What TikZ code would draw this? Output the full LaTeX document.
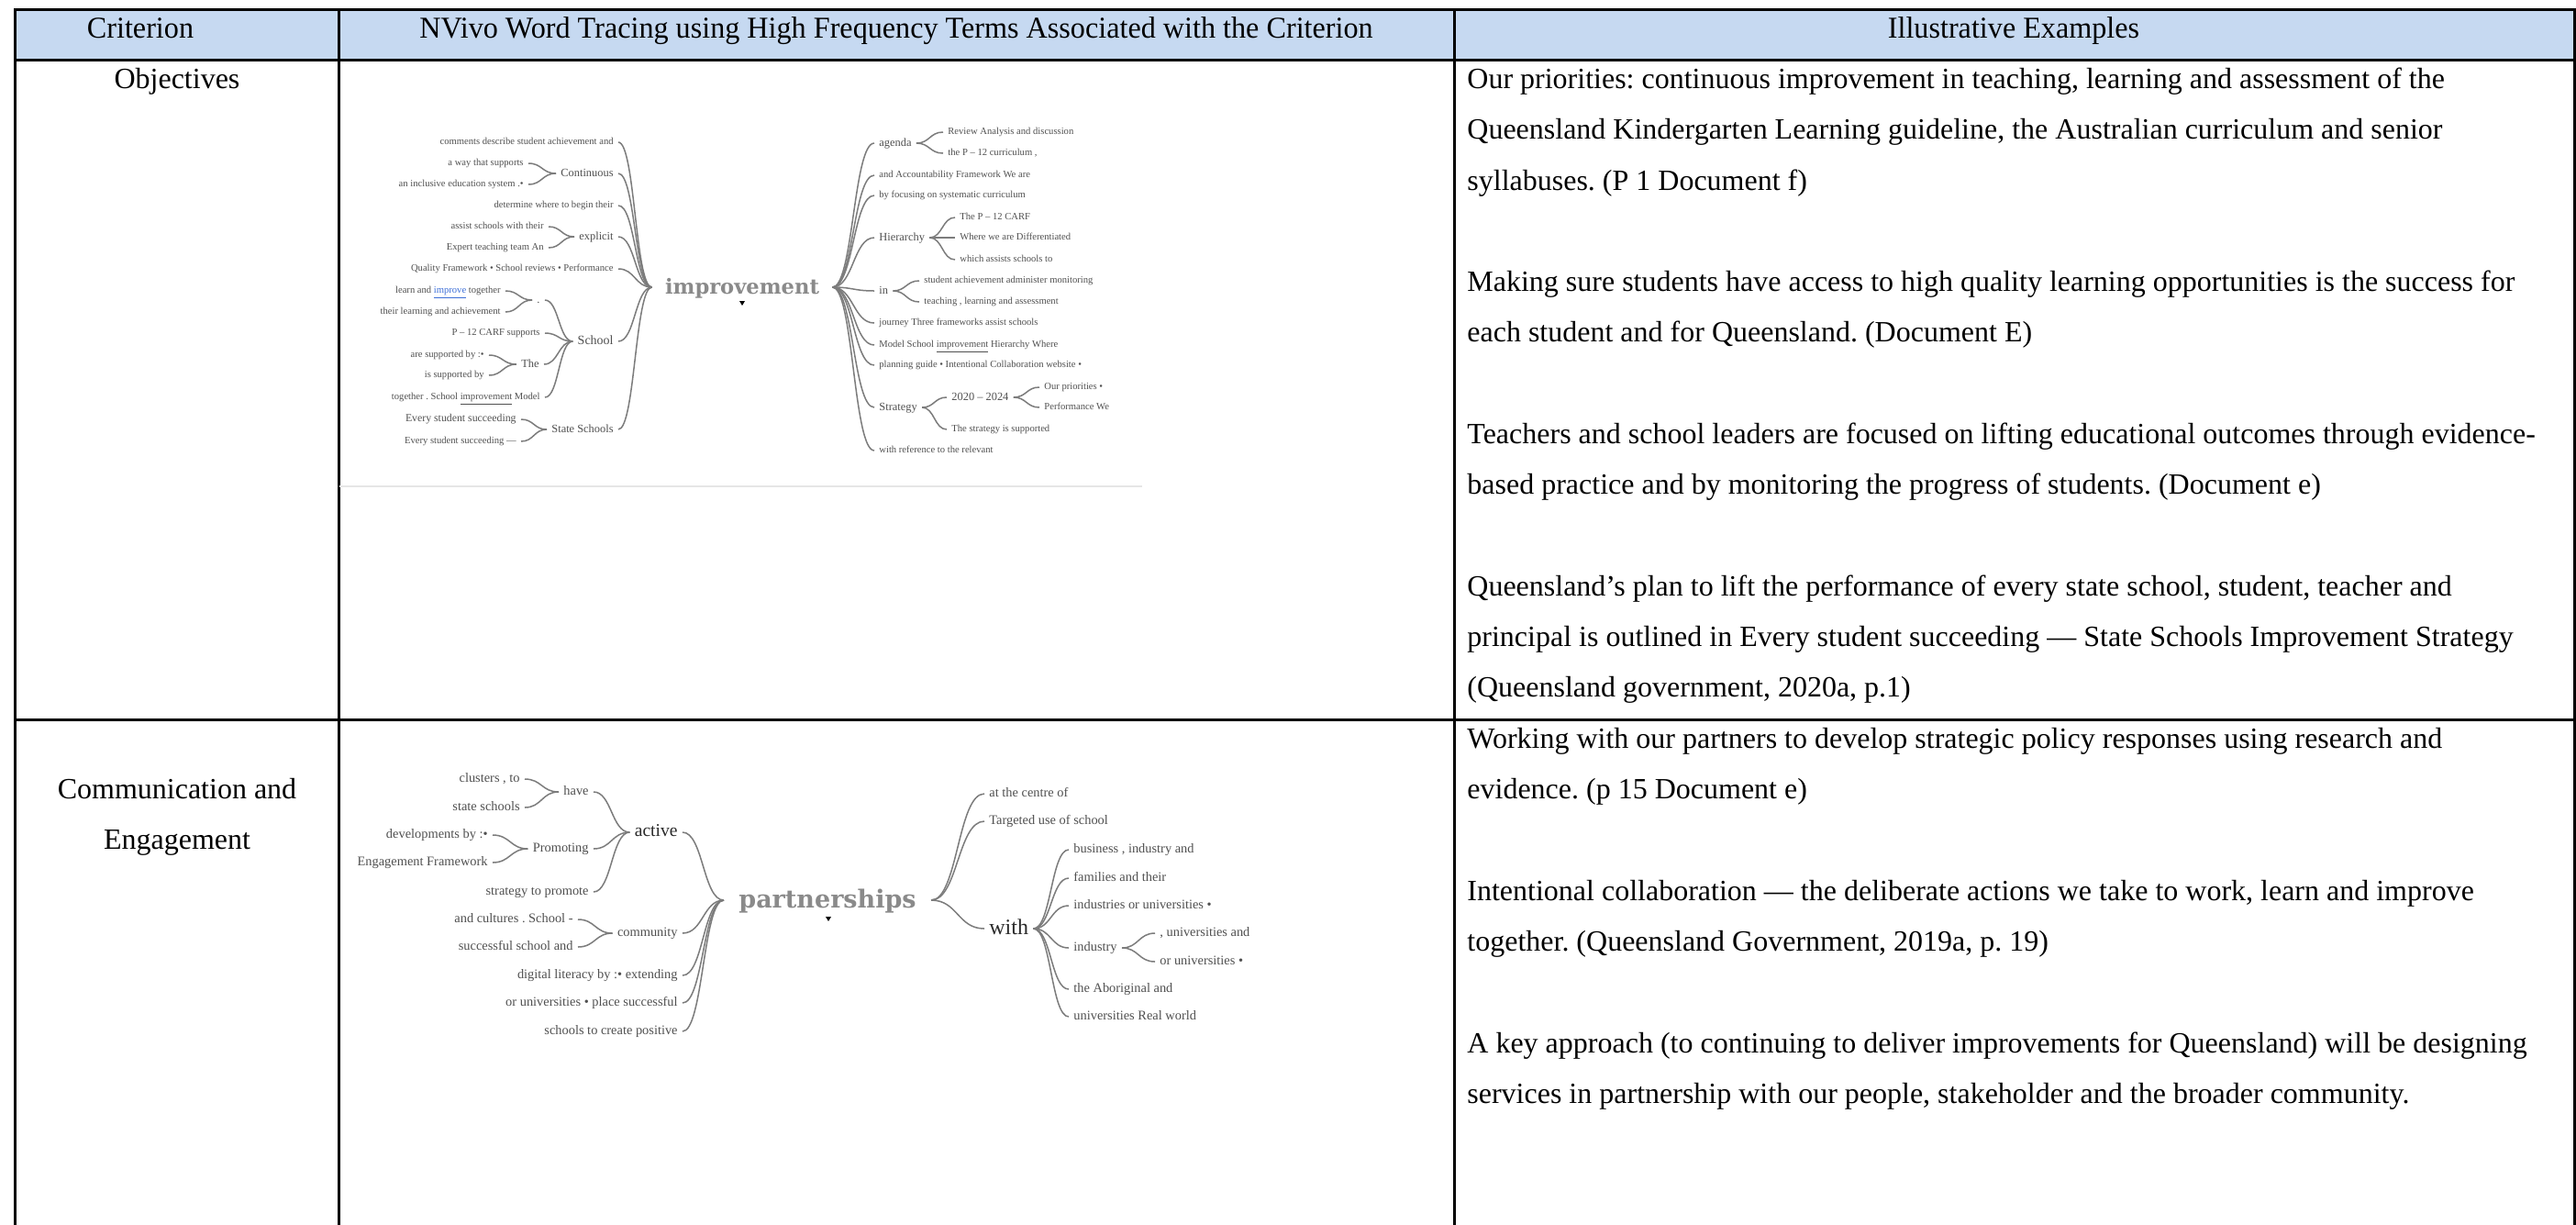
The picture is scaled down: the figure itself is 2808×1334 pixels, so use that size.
\documentclass[tikz,border=0pt]{standalone}
\usepackage{fontspec}
\setmainfont{Liberation Serif}
\newfontfamily\hdrfont[FakeStretch=0.975]{Liberation Serif}
\newfontfamily\hubfont{DejaVu Serif}
\usetikzlibrary{calc}
\frenchspacing
\definecolor{hdrblue}{HTML}{C6D9F1}
\definecolor{treetext}{HTML}{505050}
\definecolor{treedark}{HTML}{2A2A2A}
\definecolor{treeline}{HTML}{7C7C7C}
\definecolor{rootgrey}{HTML}{8A8A8A}
\definecolor{linkblue}{HTML}{3D6FD8}
\definecolor{rulegrey}{HTML}{E6E6E6}
\begin{document}
\begin{tikzpicture}[x=0.5pt,y=-0.5pt,
  grid/.style={line width=1.5pt, draw=black, line cap=rect},
  hdr/.style={font=\hdrfont\fontsize{16.5}{18}\selectfont, anchor=base, inner sep=0pt},
  body/.style={font=\fontsize{16}{18}\selectfont, anchor=base west, inner sep=0pt},
  crit/.style={font=\fontsize{16}{18}\selectfont, anchor=base, inner sep=0pt},
  tw/.style n args={3}{font=\fontsize{#1}{#1}\selectfont, text height=#2pt, text depth=#3pt,
    inner xsep=2.5pt, inner ysep=0pt, text=treetext},
  t1leaf/.style={tw={5.3}{3.7}{1.0}},
  t1ess/.style={tw={5.9}{4.1}{1.2}},
  t1mid/.style={tw={6.2}{4.3}{1.2}},
  t1big/.style={tw={7.0}{4.9}{1.4}},
  t2l/.style={tw={7.2}{5.0}{1.4}},
  t2hub/.style={tw={9.8}{6.8}{1.9}, text=treedark},
  t2hubb/.style={tw={12}{8.4}{2.3}, text=treedark},
  rootw/.style={font=\hubfont\bfseries\fontsize{11.3}{12}\selectfont, text=rootgrey,
    inner xsep=7pt, inner ysep=0pt, text height=8pt, text depth=0.5pt},
  rootwb/.style={font=\hubfont\bfseries\fontsize{13.5}{14}\selectfont, text=rootgrey,
    inner xsep=8pt, inner ysep=0pt, text height=9.5pt, text depth=0.6pt},
  branch/.style={draw=treeline, line width=0.75pt,
    to path={let \p1=(\tikztostart), \p2=(\tikztotarget) in
      .. controls ({(\x1+\x2)/2},\y1) and ({(\x1+\x2)/2},\y2) .. (\p2)}},
  marker/.style={fill=black}
]
\useasboundingbox (0,0) rectangle (2808,1334);
\fill[white] (0,0) rectangle (2808,1334);

% table frame
\fill[hdrblue] (16,10) rectangle (2806,65);
\draw[grid] (16,10) -- (2806,10);
\draw[grid] (16,65) -- (2806,65);
\draw[grid] (16,784) -- (2806,784);
\draw[grid] (16,10) -- (16,1334);
\draw[grid] (369,10) -- (369,1334);
\draw[grid] (1585,10) -- (1585,1334);
\draw[grid] (2806,10) -- (2806,1334);

% header row
\node[hdr] (h1) at (153,41) {Criterion};
\node[hdr] (h2) at (977,41) {NVivo Word Tracing using High Frequency Terms Associated with the Criterion};
\node[hdr] (h3) at (2195,41) {Illustrative Examples};

% criterion column
\node[crit] (c1) at (193,96) {Objectives};
\node[crit] (c2a) at (193,870) {Communication and};
\node[crit] (c2b) at (193,925) {Engagement};

% examples, first row
\node[body] (e1) at (1599,96) {Our priorities: continuous improvement in teaching, learning and assessment of the};
\node[body] (e2) at (1599,151) {Queensland Kindergarten Learning guideline, the Australian curriculum and senior};
\node[body] (e3) at (1599,207) {syllabuses. (P 1 Document f)};
\node[body] (e4) at (1599,317) {Making sure students have access to high quality learning opportunities is the success for};
\node[body] (e5) at (1599,372) {each student and for Queensland. (Document E)};
\node[body] (e6) at (1599,483) {Teachers and school leaders are focused on lifting educational outcomes through evidence-};
\node[body] (e7) at (1599,538) {based practice and by monitoring the progress of students. (Document e)};
\node[body] (e8) at (1599,649) {Queensland’s plan to lift the performance of every state school, student, teacher and};
\node[body] (e9) at (1599,704) {principal is outlined in Every student succeeding — State Schools Improvement Strategy};
\node[body] (e10) at (1599,759) {(Queensland government, 2020a, p.1)};

% examples, second row
\node[body] (f1) at (1599,815) {Working with our partners to develop strategic policy responses using research and};
\node[body] (f2) at (1599,870) {evidence. (p 15 Document e)};
\node[body] (f3) at (1599,981) {Intentional collaboration — the deliberate actions we take to work, learn and improve};
\node[body] (f4) at (1599,1036) {together. (Queensland Government, 2019a, p. 19)};
\node[body] (f5) at (1599,1147) {A key approach (to continuing to deliver improvements for Queensland) will be designing};
\node[body] (f6) at (1599,1202) {services in partnership with our people, stakeholder and the broader community.};

% ---------- word tree: improvement ----------
\draw[rulegrey, line width=0.6pt] (370,530) -- (1245,530);
\node[rootw] (imp) at (809,313) {improvement};
\fill[marker] (806,328) -- (812,328) -- (809,333) -- cycle;

% preceding words
\node[t1leaf, anchor=east] (a1) at (674,155) {comments describe student achievement and};
\node[t1mid, anchor=east] (a2) at (674,189) {Continuous};
\node[t1leaf, anchor=east] (a2a) at (576,178) {a way that supports};
\node[t1leaf, anchor=east] (a2b) at (576,201) {an inclusive education system .•};
\node[t1leaf, anchor=east] (a3) at (674,224) {determine where to begin their};
\node[t1mid, anchor=east] (a4) at (674,258) {explicit};
\node[t1leaf, anchor=east] (a4a) at (598,247) {assist schools with their};
\node[t1leaf, anchor=east] (a4b) at (598,270) {Expert teaching team An};
\node[t1leaf, anchor=east] (a5) at (674,293) {Quality Framework • School reviews • Performance};
\node[t1big, anchor=east] (a6) at (674,372) {School};
\node[t1mid] (a6a) at (587,327) {.};
\node[t1leaf, anchor=east] (a6a1) at (551,317) {learn and {\color{linkblue}\underline{improve}} together};
\node[t1leaf, anchor=east] (a6a2) at (551,340) {their learning and achievement};
\node[t1leaf, anchor=east] (a6b) at (594,363) {P – 12 CARF supports};
\node[t1mid, anchor=east] (a6c) at (593,397) {The};
\node[t1leaf, anchor=east] (a6c1) at (533,387) {are supported by :•};
\node[t1leaf, anchor=east] (a6c2) at (533,409) {is supported by};
\node[t1leaf, anchor=east] (a6d) at (594,433) {together . School \underline{improvement} Model};
\node[t1mid, anchor=east] (a7) at (674,468) {State Schools};
\node[t1ess, anchor=east] (a7a) at (568,457) {Every student succeeding};
\node[t1leaf, anchor=east] (a7b) at (568,481) {Every student succeeding —};

\foreach \w in {a1,a2,a3,a4,a5,a6,a7} \draw[branch] (\w.east) to (imp.west);
\foreach \w in {a2a,a2b} \draw[branch] (\w.east) to (a2.west);
\foreach \w in {a4a,a4b} \draw[branch] (\w.east) to (a4.west);
\foreach \w in {a6a,a6b,a6c,a6d} \draw[branch] (\w.east) to (a6.west);
\foreach \w in {a6a1,a6a2} \draw[branch] (\w.east) to (a6a.west);
\foreach \w in {a6c1,a6c2} \draw[branch] (\w.east) to (a6c.west);
\foreach \w in {a7a,a7b} \draw[branch] (\w.east) to (a7.west);

% following words
\node[t1mid, anchor=west] (b1) at (953,156) {agenda};
\node[t1leaf, anchor=west] (b1a) at (1028,144) {Review Analysis and discussion};
\node[t1leaf, anchor=west] (b1b) at (1028,167) {the P – 12 curriculum ,};
\node[t1leaf, anchor=west] (b2) at (953,191) {and Accountability Framework We are};
\node[t1leaf, anchor=west] (b3) at (953,213) {by focusing on systematic curriculum};
\node[t1mid, anchor=west] (b4) at (953,259) {Hierarchy};
\node[t1leaf, anchor=west] (b4a) at (1041,237) {The P – 12 CARF};
\node[t1leaf, anchor=west] (b4b) at (1041,259) {Where we are Differentiated};
\node[t1leaf, anchor=west] (b4c) at (1041,283) {which assists schools to};
\node[t1mid, anchor=west] (b5) at (953,317) {in};
\node[t1leaf, anchor=west] (b5a) at (1002,306) {student achievement administer monitoring};
\node[t1leaf, anchor=west] (b5b) at (1002,329) {teaching , learning and assessment};
\node[t1leaf, anchor=west] (b6) at (953,352) {journey Three frameworks assist schools};
\node[t1leaf, anchor=west] (b7) at (953,376) {Model School \underline{improvement} Hierarchy Where};
\node[t1leaf, anchor=west] (b8) at (953,398) {planning guide • Intentional Collaboration website •};
\node[t1mid, anchor=west] (b9) at (953,444) {Strategy};
\node[t1mid, anchor=west] (b9a) at (1032,433) {2020 – 2024};
\node[t1leaf, anchor=west] (b9a1) at (1133,422) {Our priorities •};
\node[t1leaf, anchor=west] (b9a2) at (1133,444) {Performance We};
\node[t1leaf, anchor=west] (b9b) at (1032,468) {The strategy is supported};
\node[t1leaf, anchor=west] (b10) at (953,491) {with reference to the relevant};

\foreach \w in {b1,b2,b3,b4,b5,b6,b7,b8,b9,b10} \draw[branch] (imp.east) to (\w.west);
\foreach \w in {b1a,b1b} \draw[branch] (b1.east) to (\w.west);
\foreach \w in {b4a,b4b,b4c} \draw[branch] (b4.east) to (\w.west);
\foreach \w in {b5a,b5b} \draw[branch] (b5.east) to (\w.west);
\foreach \w in {b9a,b9b} \draw[branch] (b9.east) to (\w.west);
\foreach \w in {b9a1,b9a2} \draw[branch] (b9a.east) to (\w.west);

% ---------- word tree: partnerships ----------
\node[rootwb] (par) at (902,981) {partnerships};
\fill[marker] (900,999) -- (906,999) -- (903,1004) -- cycle;

% preceding words
\node[t2hub, anchor=east] (p1) at (744,907) {active};
\node[t2l, anchor=east] (p1a) at (647,863) {have};
\node[t2l, anchor=east] (p1a1) at (572,849) {clusters , to};
\node[t2l, anchor=east] (p1a2) at (572,880) {state schools};
\node[t2l, anchor=east] (p1b) at (647,925) {Promoting};
\node[t2l, anchor=east] (p1b1) at (537,910) {developments by :•};
\node[t2l, anchor=east] (p1b2) at (537,940) {Engagement Framework};
\node[t2l, anchor=east] (p1c) at (647,972) {strategy to promote};
\node[t2l, anchor=east] (p2) at (744,1017) {community};
\node[t2l, anchor=east] (p2a) at (630,1002) {and cultures . School -};
\node[t2l, anchor=east] (p2b) at (630,1032) {successful school and};
\node[t2l, anchor=east] (p3) at (744,1063) {digital literacy by :• extending};
\node[t2l, anchor=east] (p4) at (744,1093) {or universities • place successful};
\node[t2l, anchor=east] (p5) at (744,1124) {schools to create positive};

\foreach \w in {p1,p2,p3,p4,p5} \draw[branch] (\w.east) to (par.west);
\foreach \w in {p1a,p1b,p1c} \draw[branch] (\w.east) to (p1.west);
\foreach \w in {p1a1,p1a2} \draw[branch] (\w.east) to (p1a.west);
\foreach \w in {p1b1,p1b2} \draw[branch] (\w.east) to (p1b.west);
\foreach \w in {p2a,p2b} \draw[branch] (\w.east) to (p2.west);

% following words
\node[t2l, anchor=west] (q1) at (1073,865) {at the centre of};
\node[t2l, anchor=west] (q2) at (1073,895) {Targeted use of school};
\node[t2hubb, anchor=west] (q3) at (1073,1012) {with};
\node[t2l, anchor=west] (q3a) at (1165,926) {business , industry and};
\node[t2l, anchor=west] (q3b) at (1165,957) {families and their};
\node[t2l, anchor=west] (q3c) at (1165,987) {industries or universities •};
\node[t2l, anchor=west] (q3d) at (1165,1033) {industry};
\node[t2l, anchor=west] (q3d1) at (1259,1017) {, universities and};
\node[t2l, anchor=west] (q3d2) at (1259,1048) {or universities •};
\node[t2l, anchor=west] (q3e) at (1165,1078) {the Aboriginal and};
\node[t2l, anchor=west] (q3f) at (1165,1108) {universities Real world};

\foreach \w in {q1,q2,q3} \draw[branch] (par.east) to (\w.west);
\foreach \w in {q3a,q3b,q3c,q3d,q3e,q3f} \draw[branch] (q3.east) to (\w.west);
\foreach \w in {q3d1,q3d2} \draw[branch] (q3d.east) to (\w.west);
\end{tikzpicture}
\end{document}
